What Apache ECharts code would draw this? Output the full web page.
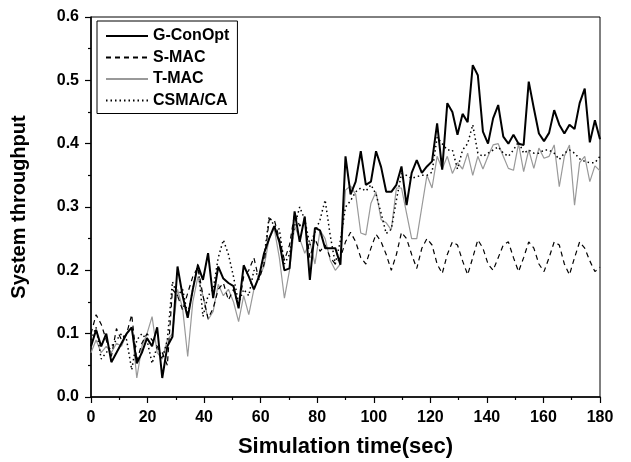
<!DOCTYPE html>
<html>
<head>
<meta charset="utf-8">
<script src="https://cdn.jsdelivr.net/npm/echarts@6/dist/echarts.min.js"></script>
<style>
html, body { margin: 0; padding: 0; background: #fff; }
#main { width: 631px; height: 462px; }
</style>
</head>
<body>
<div id="main"></div>
<script>
// sample spacing (sec) and series values
var step = 1.8;
var names = ['G-ConOpt', 'S-MAC', 'T-MAC', 'CSMA/CA'];

var gconopt = [0.08,0.106,0.08,0.10,0.055,0.07,0.085,0.10,0.11,0.053,
  0.07,0.093,0.08,0.11,0.03,0.08,0.095,0.206,0.16,0.125,
  0.17,0.208,0.185,0.227,0.156,0.206,0.187,0.18,0.175,0.14,
  0.208,0.19,0.17,0.19,0.227,0.25,0.27,0.245,0.20,0.203,
  0.293,0.245,0.285,0.185,0.267,0.263,0.235,0.235,0.235,0.209,
  0.38,0.32,0.34,0.388,0.335,0.34,0.388,0.363,0.324,0.324,
  0.335,0.364,0.303,0.354,0.374,0.354,0.364,0.372,0.432,0.359,
  0.464,0.45,0.414,0.447,0.434,0.524,0.508,0.419,0.40,0.44,
  0.461,0.411,0.40,0.414,0.40,0.398,0.498,0.456,0.416,0.404,
  0.417,0.453,0.43,0.416,0.43,0.423,0.464,0.487,0.402,0.437,0.407];

var smac = [0.10,0.13,0.115,0.09,0.064,0.108,0.09,0.10,0.13,0.056,
  0.085,0.10,0.09,0.08,0.07,0.05,0.17,0.16,0.137,0.164,
  0.19,0.205,0.16,0.124,0.14,0.17,0.18,0.153,0.17,0.143,
  0.19,0.20,0.22,0.185,0.21,0.28,0.28,0.25,0.216,0.24,
  0.29,0.27,0.28,0.22,0.25,0.23,0.24,0.22,0.21,0.22,
  0.245,0.26,0.245,0.22,0.21,0.235,0.257,0.245,0.225,0.20,
  0.225,0.26,0.25,0.225,0.203,0.235,0.25,0.24,0.21,0.195,
  0.225,0.245,0.24,0.215,0.193,0.22,0.248,0.235,0.21,0.20,
  0.22,0.24,0.245,0.22,0.198,0.22,0.245,0.235,0.21,0.198,
  0.22,0.245,0.24,0.21,0.193,0.22,0.245,0.235,0.215,0.198,0.205];

var tmac = [0.07,0.09,0.07,0.08,0.07,0.085,0.08,0.10,0.11,0.03,
  0.08,0.10,0.127,0.07,0.06,0.09,0.10,0.17,0.14,0.064,
  0.15,0.19,0.16,0.122,0.135,0.178,0.16,0.17,0.15,0.119,
  0.16,0.13,0.17,0.19,0.206,0.25,0.266,0.22,0.156,0.20,
  0.27,0.25,0.227,0.245,0.21,0.263,0.25,0.216,0.20,0.21,
  0.327,0.333,0.32,0.259,0.256,0.306,0.324,0.28,0.275,0.264,
  0.33,0.33,0.29,0.25,0.25,0.30,0.35,0.33,0.38,0.36,
  0.38,0.353,0.37,0.36,0.385,0.35,0.38,0.36,0.38,0.398,
  0.40,0.38,0.361,0.358,0.40,0.356,0.39,0.361,0.393,0.377,
  0.38,0.398,0.332,0.38,0.398,0.303,0.37,0.38,0.34,0.365,0.357];

var csma = [0.09,0.11,0.06,0.07,0.08,0.09,0.10,0.09,0.043,0.09,
  0.10,0.09,0.053,0.08,0.06,0.09,0.182,0.16,0.17,0.13,
  0.17,0.21,0.127,0.16,0.17,0.22,0.248,0.225,0.19,0.148,
  0.17,0.16,0.20,0.19,0.22,0.285,0.27,0.265,0.21,0.225,
  0.27,0.30,0.28,0.24,0.26,0.28,0.311,0.255,0.21,0.247,
  0.30,0.31,0.324,0.33,0.325,0.335,0.32,0.29,0.258,0.265,
  0.311,0.353,0.35,0.345,0.348,0.35,0.35,0.355,0.41,0.40,
  0.39,0.39,0.36,0.39,0.40,0.43,0.385,0.38,0.385,0.39,
  0.395,0.385,0.38,0.39,0.403,0.385,0.39,0.385,0.385,0.39,
  0.39,0.385,0.375,0.385,0.39,0.385,0.376,0.372,0.37,0.37,0.38];

function pairs(vals) {
  return vals.map(function (v, i) { return [+(i * step).toFixed(2), v]; });
}

var myChart = echarts.init(document.getElementById('main'));
var font = 'Liberation Sans, Arial, sans-serif';

option = {
  backgroundColor: '#fff',
  animation: false,
  grid: {
    left: 91, right: 31, top: 17, bottom: 65,
    outerBoundsMode: 'none',
    show: true, borderColor: '#000', borderWidth: 1
  },
  legend: {
    orient: 'vertical',
    left: 97, top: 21,
    padding: [7, 8, 5, 8],
    itemWidth: 42, itemHeight: 16, itemGap: 5.5,
    backgroundColor: '#fff',
    borderColor: '#000', borderWidth: 1,
    itemStyle: { opacity: 0 },
    textStyle: { fontFamily: font, fontWeight: 'bold', fontSize: 16, color: '#000' },
    data: names
  },
  xAxis: {
    type: 'value', min: 0, max: 180, interval: 20,
    name: 'Simulation time(sec)', nameLocation: 'middle', nameGap: 39,
    nameTextStyle: { fontFamily: font, fontWeight: 'bold', fontSize: 22, color: '#000' },
    axisLine: { lineStyle: { color: '#000', width: 1.5 } },
    axisTick: { inside: false, length: 6, lineStyle: { color: '#000', width: 1.2 } },
    minorTick: { show: true, splitNumber: 2, length: 3, lineStyle: { color: '#000', width: 1.2 } },
    axisLabel: { fontFamily: font, fontWeight: 'bold', fontSize: 16, color: '#000', margin: 13 },
    splitLine: { show: false }
  },
  yAxis: {
    type: 'value', min: 0, max: 0.6, interval: 0.1,
    name: 'System throughput', nameLocation: 'middle', nameGap: 62,
    nameTextStyle: { fontFamily: font, fontWeight: 'bold', fontSize: 20, color: '#000' },
    axisLine: { lineStyle: { color: '#000', width: 1.5 } },
    axisTick: { inside: false, length: 6, lineStyle: { color: '#000', width: 1.2 } },
    minorTick: { show: true, splitNumber: 2, length: 3, lineStyle: { color: '#000', width: 1.2 } },
    axisLabel: {
      fontFamily: font, fontWeight: 'bold', fontSize: 16, color: '#000', margin: 12,
      formatter: function (v) { return v.toFixed(1); }
    },
    splitLine: { show: false }
  },
  series: [
    {
      name: names[0], type: 'line', symbol: 'none', data: pairs(gconopt),
      lineStyle: { color: '#000', width: 2 }, itemStyle: { color: '#000' }, z: 5
    },
    {
      name: names[1], type: 'line', symbol: 'none', data: pairs(smac),
      lineStyle: { color: '#000', width: 1.2, type: [5, 4] }, itemStyle: { color: '#000' }, z: 4
    },
    {
      name: names[2], type: 'line', symbol: 'none', data: pairs(tmac),
      lineStyle: { color: '#999', width: 1.2 }, itemStyle: { color: '#999' }, z: 3
    },
    {
      name: names[3], type: 'line', symbol: 'none', data: pairs(csma),
      lineStyle: { color: '#000', width: 1.5, type: [1.5, 3] }, itemStyle: { color: '#000' }, z: 4
    }
  ]
};

myChart.setOption(option);
</script>
</body>
</html>
